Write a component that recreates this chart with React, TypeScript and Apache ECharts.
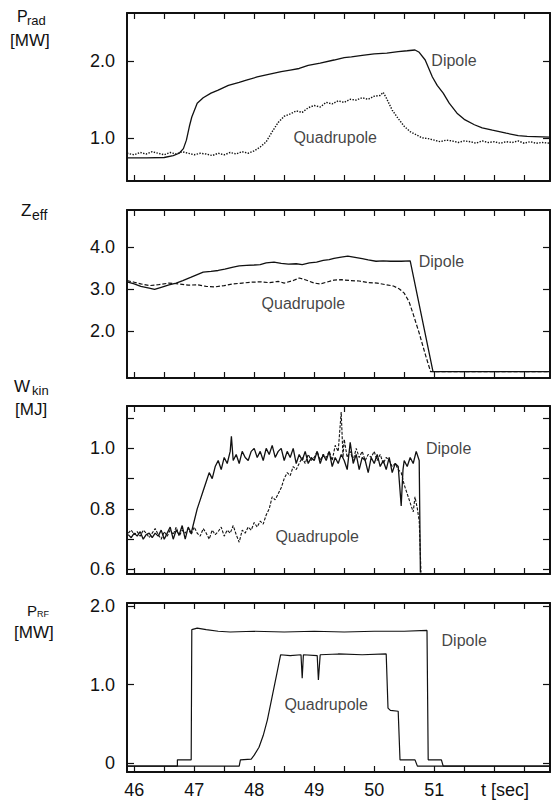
import React, { useEffect, useRef } from "react";
import * as echarts from "echarts";

// ---------- axis ticks / labels ----------
const X_MIN = 45.88;
const X_MAX = 52.93;
const xTicks = [46, 46.5, 47, 47.5, 48, 48.5, 49, 49.5, 50, 50.5, 51, 51.5, 52, 52.5];
const xLabelValues = [46, 47, 48, 49, 50, 51, 52.18];
const xUnitLabel = "t [sec]";

const pradRange = [0.44, 2.62];
const pradLabels = [1.0, 2.0];
const zeffRange = [0.88, 4.88];
const zeffLabels = [2.0, 3.0, 4.0];
const wkinRange = [0.585, 1.14];
const wkinLabels = [0.6, 0.8, 1.0];
const wkinTicks = [0.6, 0.7, 0.8, 0.9, 1.0, 1.1];
const prfRange = [-0.115, 2.04];
const prfLabels = [0, 1.0, 2.0];

// ---------- data: [t (s), value] ----------
const pradDipole = [
  [45.88, 0.74], [46.2, 0.74], [46.5, 0.745], [46.65, 0.77], [46.75, 0.8], [46.82, 0.86],
  [46.87, 0.97], [46.92, 1.15], [46.96, 1.27], [47.05, 1.45], [47.15, 1.52], [47.28, 1.58],
  [47.4, 1.62], [47.57, 1.68], [47.75, 1.72], [47.87, 1.75], [48.05, 1.79], [48.22, 1.82],
  [48.45, 1.86], [48.6, 1.88], [48.75, 1.9], [48.9, 1.94], [49.1, 1.97], [49.33, 2.01],
  [49.5, 2.04], [49.62, 2.05], [49.8, 2.07], [50.0, 2.09], [50.21, 2.1], [50.4, 2.12],
  [50.55, 2.13], [50.68, 2.14], [50.75, 2.11], [50.85, 2.01], [50.97, 1.79], [51.05, 1.68],
  [51.15, 1.58], [51.25, 1.45], [51.38, 1.32], [51.5, 1.24], [51.67, 1.17], [51.8, 1.13],
  [51.97, 1.1], [52.2, 1.06], [52.4, 1.03], [52.55, 1.02], [52.93, 1.01],
];
const pradQuad = [
  [45.88, 0.8], [46.0, 0.78], [46.1, 0.81], [46.2, 0.79], [46.3, 0.82], [46.4, 0.8],
  [46.5, 0.78], [46.6, 0.81], [46.7, 0.79], [46.8, 0.82], [46.9, 0.8], [47.0, 0.78],
  [47.1, 0.8], [47.2, 0.79], [47.3, 0.77], [47.4, 0.8], [47.5, 0.78], [47.6, 0.81],
  [47.7, 0.79], [47.8, 0.82], [47.9, 0.8], [48.0, 0.83], [48.1, 0.88], [48.2, 0.95],
  [48.3, 1.08], [48.4, 1.2], [48.5, 1.28], [48.6, 1.31], [48.7, 1.35], [48.8, 1.33],
  [48.9, 1.39], [49.0, 1.42], [49.1, 1.4], [49.2, 1.46], [49.3, 1.44], [49.4, 1.48],
  [49.5, 1.46], [49.6, 1.5], [49.7, 1.49], [49.8, 1.52], [49.9, 1.5], [50.0, 1.54],
  [50.1, 1.55], [50.15, 1.59], [50.2, 1.52], [50.3, 1.36], [50.4, 1.25], [50.5, 1.15],
  [50.6, 1.08], [50.7, 1.04], [50.8, 1.0], [50.9, 0.99], [51.0, 0.97], [51.1, 0.95],
  [51.2, 0.97], [51.3, 0.96], [51.4, 0.94], [51.5, 0.96], [51.6, 0.95], [51.7, 0.93],
  [51.8, 0.96], [51.9, 0.94], [52.0, 0.95], [52.1, 0.93], [52.2, 0.95], [52.3, 0.94],
  [52.4, 0.96], [52.5, 0.93], [52.6, 0.95], [52.7, 0.93], [52.8, 0.94], [52.93, 0.93],
];

const zeffDipole = [
  [45.88, 3.17], [46.0, 3.12], [46.11, 3.06], [46.25, 3.02], [46.34, 2.99], [46.45, 3.04],
  [46.58, 3.1], [46.7, 3.14], [46.81, 3.2], [46.95, 3.28], [47.05, 3.34], [47.15, 3.4],
  [47.28, 3.42], [47.4, 3.44], [47.51, 3.47], [47.65, 3.52], [47.75, 3.55], [47.87, 3.56],
  [48.0, 3.57], [48.1, 3.58], [48.2, 3.62], [48.33, 3.64], [48.45, 3.61], [48.57, 3.59],
  [48.7, 3.6], [48.8, 3.58], [48.92, 3.62], [49.04, 3.64], [49.15, 3.68], [49.25, 3.7],
  [49.33, 3.73], [49.45, 3.76], [49.56, 3.78], [49.68, 3.75], [49.8, 3.72], [49.9, 3.69],
  [50.03, 3.66], [50.15, 3.67], [50.27, 3.66], [50.45, 3.66], [50.6, 3.67], [50.98, 1.03],
  [52.93, 1.03],
];
const zeffQuad = [
  [45.88, 3.2], [46.0, 3.16], [46.11, 3.12], [46.25, 3.08], [46.4, 3.1], [46.58, 3.14],
  [46.75, 3.12], [46.9, 3.09], [47.05, 3.1], [47.2, 3.06], [47.35, 3.05], [47.5, 3.08],
  [47.65, 3.12], [47.8, 3.14], [47.95, 3.16], [48.1, 3.17], [48.25, 3.15], [48.4, 3.18],
  [48.5, 3.14], [48.65, 3.2], [48.75, 3.26], [48.85, 3.22], [49.0, 3.14], [49.1, 3.12],
  [49.2, 3.16], [49.33, 3.21], [49.45, 3.22], [49.6, 3.2], [49.75, 3.19], [49.9, 3.15],
  [50.05, 3.14], [50.2, 3.1], [50.32, 3.07], [50.42, 3.0], [50.5, 2.9], [50.58, 2.7],
  [50.65, 2.4], [50.75, 1.95], [50.85, 1.45], [50.94, 1.03], [52.93, 1.03],
];

const wkinDipole = [
  [45.9, 0.715], [45.95, 0.705], [46.0, 0.72], [46.05, 0.71], [46.1, 0.725], [46.15, 0.7],
  [46.2, 0.715], [46.25, 0.72], [46.3, 0.705], [46.35, 0.72], [46.4, 0.71], [46.45, 0.73],
  [46.5, 0.7], [46.55, 0.72], [46.6, 0.74], [46.65, 0.7], [46.7, 0.73], [46.75, 0.715],
  [46.8, 0.745], [46.85, 0.7], [46.9, 0.74], [46.95, 0.72], [47.0, 0.76], [47.05, 0.8],
  [47.1, 0.83], [47.15, 0.86], [47.2, 0.89], [47.25, 0.92], [47.3, 0.9], [47.35, 0.94],
  [47.4, 0.96], [47.45, 0.93], [47.5, 0.97], [47.55, 0.95], [47.6, 0.99], [47.62, 1.04],
  [47.65, 0.96], [47.7, 0.98], [47.75, 0.95], [47.8, 0.99], [47.85, 0.97], [47.9, 0.96],
  [47.95, 0.99], [48.0, 1.0], [48.05, 0.97], [48.1, 0.99], [48.15, 0.96], [48.2, 1.0],
  [48.25, 0.98], [48.3, 1.01], [48.35, 0.97], [48.4, 0.99], [48.45, 1.0], [48.5, 0.96],
  [48.55, 0.99], [48.6, 0.97], [48.65, 1.0], [48.7, 0.95], [48.75, 0.98], [48.8, 0.96],
  [48.85, 0.99], [48.9, 0.95], [48.95, 0.97], [49.0, 0.96], [49.05, 0.99], [49.1, 0.95],
  [49.15, 0.98], [49.2, 0.96], [49.25, 0.99], [49.3, 0.94], [49.35, 0.97], [49.4, 0.95],
  [49.45, 0.98], [49.5, 0.96], [49.55, 0.93], [49.6, 1.02], [49.65, 0.95], [49.7, 0.98],
  [49.75, 0.93], [49.8, 0.97], [49.85, 0.96], [49.9, 0.92], [49.95, 0.97], [50.0, 0.95],
  [50.05, 0.98], [50.1, 0.94], [50.15, 0.96], [50.2, 0.93], [50.25, 0.97], [50.3, 0.92],
  [50.35, 0.95], [50.4, 0.94], [50.45, 0.81], [50.48, 0.93], [50.5, 0.96], [50.55, 0.94],
  [50.6, 0.97], [50.65, 0.95], [50.7, 0.99], [50.75, 0.96], [50.77, 0.59],
];
const wkinQuad = [
  [45.9, 0.72], [45.95, 0.73], [46.0, 0.715], [46.05, 0.725], [46.1, 0.71], [46.15, 0.73],
  [46.2, 0.72], [46.25, 0.705], [46.3, 0.72], [46.35, 0.735], [46.4, 0.715], [46.45, 0.7],
  [46.5, 0.725], [46.55, 0.71], [46.6, 0.73], [46.65, 0.715], [46.7, 0.74], [46.75, 0.71],
  [46.8, 0.73], [46.85, 0.72], [46.9, 0.735], [46.95, 0.715], [47.0, 0.74], [47.05, 0.72],
  [47.1, 0.71], [47.15, 0.735], [47.2, 0.72], [47.25, 0.7], [47.3, 0.73], [47.35, 0.715],
  [47.4, 0.725], [47.45, 0.74], [47.5, 0.71], [47.55, 0.73], [47.6, 0.72], [47.65, 0.745],
  [47.7, 0.715], [47.75, 0.69], [47.8, 0.73], [47.85, 0.72], [47.9, 0.74], [47.95, 0.73],
  [48.0, 0.755], [48.05, 0.74], [48.1, 0.76], [48.15, 0.75], [48.2, 0.78], [48.25, 0.8],
  [48.3, 0.84], [48.35, 0.83], [48.4, 0.85], [48.45, 0.87], [48.5, 0.9], [48.55, 0.92],
  [48.6, 0.91], [48.65, 0.94], [48.7, 0.93], [48.75, 0.95], [48.8, 0.97], [48.85, 0.95],
  [48.9, 0.98], [48.95, 0.96], [49.0, 0.97], [49.05, 0.99], [49.1, 0.96], [49.15, 0.98],
  [49.2, 0.97], [49.25, 0.99], [49.3, 0.96], [49.35, 1.01], [49.4, 0.99], [49.45, 1.12],
  [49.48, 0.97], [49.5, 1.03], [49.55, 0.97], [49.6, 0.99], [49.65, 0.96], [49.7, 1.0],
  [49.75, 0.97], [49.8, 0.99], [49.85, 0.96], [49.9, 0.98], [49.95, 0.97], [50.0, 0.99],
  [50.05, 0.96], [50.1, 0.98], [50.15, 0.95], [50.2, 0.97], [50.25, 0.96], [50.3, 0.94],
  [50.35, 0.95], [50.4, 0.93], [50.45, 0.92], [50.5, 0.88], [50.55, 0.85], [50.6, 0.82],
  [50.65, 0.79], [50.68, 0.84], [50.72, 0.8], [50.75, 0.76], [50.78, 0.59],
];

const prfDipole = [
  [45.88, -0.04], [46.72, -0.04], [46.72, 0.04], [46.95, 0.04], [46.96, 1.7], [47.05, 1.72],
  [47.2, 1.7], [47.4, 1.68], [47.6, 1.67], [48.0, 1.68], [48.5, 1.67], [49.0, 1.68],
  [49.5, 1.67], [50.0, 1.68], [50.5, 1.68], [50.88, 1.69], [50.9, 0.04], [51.12, 0.04],
  [51.15, -0.04], [52.93, -0.04],
];
const prfQuad = [
  [45.88, -0.04], [47.75, -0.04], [47.77, 0.04], [47.95, 0.05], [48.0, 0.1], [48.08, 0.2],
  [48.15, 0.35], [48.22, 0.55], [48.3, 0.85], [48.38, 1.15], [48.44, 1.38], [48.6, 1.37],
  [48.78, 1.38], [48.8, 1.08], [48.82, 1.38], [49.05, 1.37], [49.07, 1.06], [49.1, 1.38],
  [49.4, 1.39], [49.8, 1.38], [50.2, 1.39], [50.23, 0.7], [50.27, 0.67], [50.4, 0.66],
  [50.43, 0.04], [50.68, 0.04], [50.72, -0.04], [52.93, -0.04],
];

// curve name labels: [t, value]
const dipoleName = "Dipole";
const quadName = "Quadrupole";
const pradNamePos = [[51.33, 2.0], [49.35, 1.0]];
const zeffNamePos = [[51.12, 3.66], [48.82, 2.66]];
const wkinNamePos = [[51.24, 1.0], [49.05, 0.708]];
const prfNamePos = [[51.5, 1.56], [49.2, 0.74]];

const FONT = "'Liberation Sans', Arial, Helvetica, sans-serif";
const INK = "#111";

export default function App() {
  const ref = useRef<HTMLDivElement>(null);

  useEffect(() => {
    document.body.style.margin = "0";
    if (!ref.current) return;
    const chart = echarts.init(ref.current, undefined, { renderer: "svg" });

    const grids = [
      { top: 13, height: 168 },
      { top: 210, height: 168 },
      { top: 406, height: 168 },
      { top: 603, height: 169 },
    ].map((g) => ({ ...g, left: 127, width: 423, show: false }));

    const panels = [
      { range: pradRange, labels: pradLabels, ticks: pradLabels, fmt: (v: number) => v.toFixed(1) },
      { range: zeffRange, labels: zeffLabels, ticks: zeffLabels, fmt: (v: number) => v.toFixed(1) },
      { range: wkinRange, labels: wkinLabels, ticks: wkinTicks, fmt: (v: number) => v.toFixed(1) },
      { range: prfRange, labels: prfLabels, ticks: prfLabels, fmt: (v: number) => (v === 0 ? "0" : v.toFixed(1)) },
    ];

    const axisLine = { show: true, onZero: false, lineStyle: { color: INK, width: 2 } };
    const tickStyle = { color: INK, width: 1.2 };

    const xAxis: any[] = [];
    const yAxis: any[] = [];
    panels.forEach((p, i) => {
      const isLast = i === panels.length - 1;
      xAxis.push({
        gridIndex: i, type: "value", min: X_MIN, max: X_MAX, position: "bottom",
        axisLine, splitLine: { show: false },
        axisTick: { show: true, inside: true, length: 6, customValues: xTicks, lineStyle: tickStyle },
        axisLabel: {
          show: isLast, customValues: xLabelValues, fontSize: 18, color: INK, fontFamily: FONT, margin: 9,
          formatter: (v: number) => (v > 51.5 ? xUnitLabel : String(v)),
        },
      });
      xAxis.push({
        gridIndex: i, type: "value", min: X_MIN, max: X_MAX, position: "top",
        axisLine, splitLine: { show: false },
        axisTick: { show: true, inside: true, length: 6, customValues: xTicks, lineStyle: tickStyle },
        axisLabel: { show: false },
      });
      yAxis.push({
        gridIndex: i, type: "value", min: p.range[0], max: p.range[1], position: "left",
        axisLine, splitLine: { show: false },
        axisTick: { show: true, inside: true, length: 7, customValues: p.ticks, lineStyle: tickStyle },
        axisLabel: {
          show: true, customValues: p.labels, fontSize: 18, color: INK, fontFamily: FONT, margin: 12,
          formatter: p.fmt,
        },
      });
      yAxis.push({
        gridIndex: i, type: "value", min: p.range[0], max: p.range[1], position: "right",
        axisLine, splitLine: { show: false },
        axisTick: { show: true, inside: true, length: 7, customValues: p.ticks, lineStyle: tickStyle },
        axisLabel: { show: false },
      });
    });

    const line = (i: number, data: number[][], type: any, width = 1.3) => ({
      type: "line", xAxisIndex: 2 * i, yAxisIndex: 2 * i, data, showSymbol: false, symbol: "none",
      lineStyle: { color: INK, width, type }, silent: true, clip: true,
    });
    const names = (i: number, pos: number[][]) => ({
      type: "scatter", xAxisIndex: 2 * i, yAxisIndex: 2 * i, symbolSize: 0, silent: true,
      data: [
        { value: pos[0], name: dipoleName },
        { value: pos[1], name: quadName },
      ],
      label: {
        show: true, position: "inside", formatter: "{b}", color: INK, fontSize: 16, fontFamily: FONT,
      },
    });

    const series = [
      line(0, pradDipole, "solid"),
      line(0, pradQuad, "dotted", 1.4),
      names(0, pradNamePos),
      line(1, zeffDipole, "solid"),
      line(1, zeffQuad, [4, 2], 1.2),
      names(1, zeffNamePos),
      line(2, wkinDipole, "solid", 1.3),
      line(2, wkinQuad, [3, 1.5], 1.1),
      names(2, wkinNamePos),
      line(3, prfDipole, "solid", 1.2),
      line(3, prfQuad, "solid", 1.2),
      names(3, prfNamePos),
    ];

    const txt = (text: string, left: number, top: number, size: number) => ({
      type: "text", left, top,
      style: { text, fontSize: size, fontFamily: FONT, fill: INK },
    });

    const graphic = [
      txt("P", 17, 8, 16), txt("rad", 27, 14, 13), txt("[MW]", 10, 32, 17),
      txt("Z", 21, 202, 17), txt("eff", 32, 208, 14),
      txt("W", 14, 378, 17), txt("kin", 32, 384, 13), txt("[MJ]", 15, 401, 17),
      txt("P", 27, 603, 15), txt("RF", 37, 609, 9), txt("[MW]", 14, 624, 17),
    ];

    chart.setOption({
      animation: false,
      backgroundColor: "#fff",
      grid: grids,
      xAxis,
      yAxis,
      series,
      graphic,
    });
    return () => chart.dispose();
  }, []);

  return <div ref={ref} style={{ width: 551, height: 802 }} />;
}
